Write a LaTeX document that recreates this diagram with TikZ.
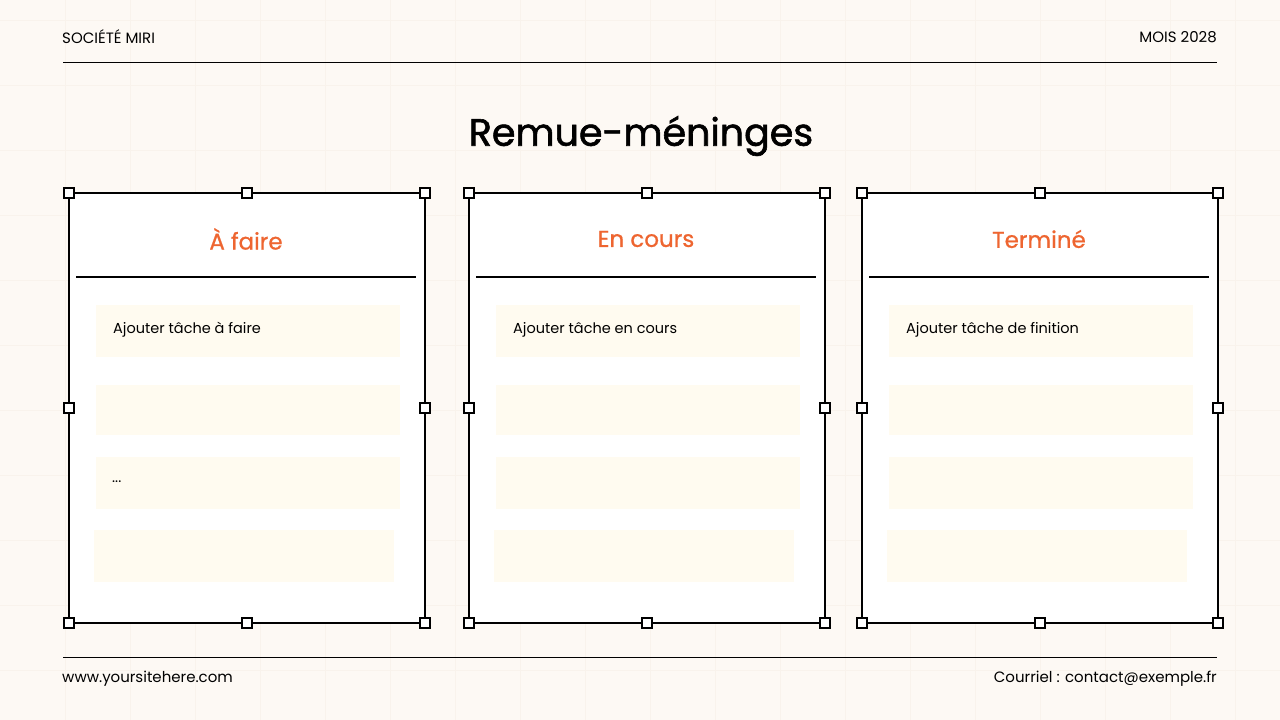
\documentclass[tikz,border=0pt]{standalone}
\usepackage{fontspec}
\setmainfont{Poppins}
\newfontfamily\semib[FakeBold=1.6]{Poppins}
\newfontfamily\medb[FakeBold=0.8]{Poppins}
\begin{document}
\begin{tikzpicture}[x=1pt,y=-1pt,
  panel/.style={draw=black,line width=2pt,fill=white},
  handle/.style={draw=black,line width=1.8pt,fill=white,minimum size=10pt,inner sep=0pt},
  card/.style={fill=cardc,draw=none},
  head/.style={font=\medb\fontsize{23}{26}\selectfont,text=headc},
  small/.style={font=\fontsize{14.5}{17}\selectfont},
  tiny/.style={font=\fontsize{15}{17}\selectfont,text=black}]
\definecolor{bgc}{HTML}{FDF9F4}
\definecolor{gridc}{HTML}{F9F3EC}
\definecolor{cardc}{HTML}{FFFBF0}
\definecolor{headc}{HTML}{EE6530}
\fill[bgc] (0,0) rectangle (1280,720);
\useasboundingbox (0,0) rectangle (1280,720);
\foreach \x in {65,130,195,260,325,390,455,520,585,650,715,780,845,910,975,1040,1105,1170,1235}
  \draw[gridc,line width=0.8pt] (\x,0) -- (\x,720);
\foreach \y in {20,85,150,215,280,345,410,475,540,605,670}
  \draw[gridc,line width=0.8pt] (0,\y) -- (1280,\y);
\node[tiny,anchor=west,inner sep=0pt] (co) at (62,37) {SOCIÉTÉ MIRI};
\node[tiny,anchor=east,inner sep=0pt] (mo) at (1217,37) {MOIS 2028};
\draw[line width=1pt] (63,62) -- (1217,62);
\draw[line width=1pt] (63,657) -- (1217,657);
\node[tiny,anchor=west,inner sep=0pt] (web) at (62,679) {www.yoursitehere.com};
\node[tiny,anchor=east,inner sep=0pt] (mail) at (1217,679) {Courriel : contact@exemple.fr};
\node[font=\semib\fontsize{38}{42}\selectfont] (title) at (641,136) {Remue-méninges};
\foreach \px/\name/\lab/\first [count=\i] in {69/a/À faire/Ajouter tâche à faire,469/b/En cours/Ajouter tâche en cours,862/c/Terminé/Ajouter tâche de finition}{
  \draw[panel] (\px,193) rectangle (\px+356,623);
  \node[head] (h\name) at (\px+177,239) {\lab};
  \draw[line width=1.5pt] (\px+7,277) -- (\px+347,277);
  \fill[card] (\px+27,305) rectangle (\px+331,357);
  \fill[card] (\px+27,385) rectangle (\px+331,435);
  \fill[card] (\px+27,457) rectangle (\px+331,509);
  \fill[card] (\px+25,530) rectangle (\px+325,582);
  \node[small,anchor=west,inner sep=0pt] (t\name) at (\px+44,330) {\first};
  \foreach \hx/\hy in {0/193,178/193,356/193,0/408,356/408,0/623,178/623,356/623}
      \node[handle] at (\px+\hx,\hy) {};
}
\node[small,anchor=west,inner sep=0pt] (dots) at (112,482) {...};
\end{tikzpicture}
\end{document}
